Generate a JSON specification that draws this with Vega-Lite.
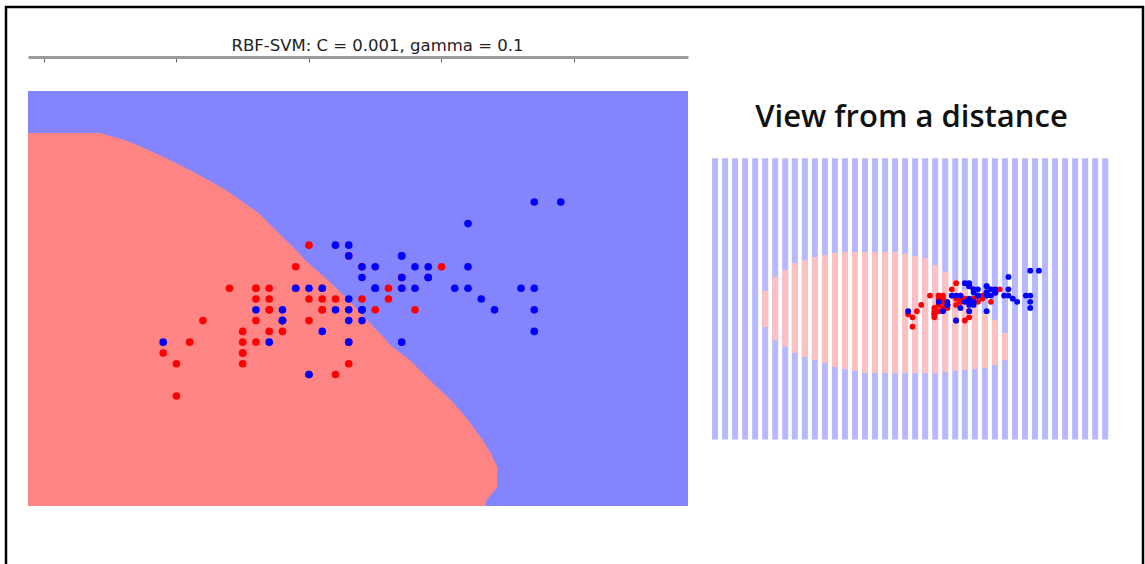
{
  "$schema": "https://vega.github.io/schema/vega-lite/v6.json",
  "usermeta": {"embedOptions": {"actions": false}},
  "width": 1137,
  "height": 557,
  "autosize": {"type": "none"},
  "padding": {"left": 6, "top": 7, "right": 2, "bottom": 0},
  "background": "white",
  "config": {"view": {"stroke": "black", "strokeWidth": 2.5, "strokeDash": [1694, 1137, 600]}},
  "datasets": {
    "region": [{"x1": 3.88, "x2": 8.86, "y1": 0.98, "y2": 4.83}],
    "boundary": [
      {"bx": 4.42, "by": 4.44}, {"bx": 4.61, "by": 4.375}, {"bx": 4.79, "by": 4.283}, {"bx": 4.95, "by": 4.19},
      {"bx": 5.10, "by": 4.097}, {"bx": 5.24, "by": 4.004}, {"bx": 5.37, "by": 3.912}, {"bx": 5.48, "by": 3.819},
      {"bx": 5.62, "by": 3.698}, {"bx": 5.71, "by": 3.587}, {"bx": 5.80, "by": 3.476}, {"bx": 5.88, "by": 3.383},
      {"bx": 5.97, "by": 3.262}, {"bx": 6.14, "by": 3.077}, {"bx": 6.30, "by": 2.891}, {"bx": 6.39, "by": 2.771},
      {"bx": 6.51, "by": 2.613}, {"bx": 6.63, "by": 2.455}, {"bx": 6.76, "by": 2.335}, {"bx": 6.91, "by": 2.149},
      {"bx": 7.07, "by": 1.964}, {"bx": 7.20, "by": 1.778}, {"bx": 7.31, "by": 1.593}, {"bx": 7.37, "by": 1.472},
      {"bx": 7.42, "by": 1.342}, {"bx": 7.42, "by": 1.157}, {"bx": 7.34, "by": 1.036}, {"bx": 7.33, "by": 0.98}
    ],
    "cols": [
      {"cx": 0.47}, {"cx": 0.70}, {"cx": 0.93}, {"cx": 1.16}, {"cx": 1.39}, {"cx": 1.62}, {"cx": 1.85}, {"cx": 2.08},
      {"cx": 2.30}, {"cx": 2.53}, {"cx": 2.76}, {"cx": 2.99}, {"cx": 3.22}, {"cx": 3.45}, {"cx": 3.68}, {"cx": 3.91},
      {"cx": 4.14}, {"cx": 4.37}, {"cx": 4.60}, {"cx": 4.83}, {"cx": 5.06}, {"cx": 5.29}, {"cx": 5.52}, {"cx": 5.75},
      {"cx": 5.98}, {"cx": 6.20}, {"cx": 6.43}, {"cx": 6.66}, {"cx": 6.89}, {"cx": 7.12}, {"cx": 7.35}, {"cx": 7.58},
      {"cx": 7.81}, {"cx": 8.04}, {"cx": 8.27}, {"cx": 8.50}, {"cx": 8.73}, {"cx": 8.96}, {"cx": 9.19}, {"cx": 9.42}
    ],
    "pink": [
      {"cx": 1.62, "lo": 1.99, "hi": 3.15}, {"cx": 1.85, "lo": 1.57, "hi": 3.60}, {"cx": 2.08, "lo": 1.35, "hi": 3.82},
      {"cx": 2.30, "lo": 1.16, "hi": 4.05}, {"cx": 2.53, "lo": 1.03, "hi": 4.14}, {"cx": 2.76, "lo": 0.93, "hi": 4.24},
      {"cx": 2.99, "lo": 0.83, "hi": 4.30}, {"cx": 3.22, "lo": 0.71, "hi": 4.37}, {"cx": 3.45, "lo": 0.64, "hi": 4.40},
      {"cx": 3.68, "lo": 0.58, "hi": 4.40}, {"cx": 3.91, "lo": 0.51, "hi": 4.40}, {"cx": 4.14, "lo": 0.51, "hi": 4.40},
      {"cx": 4.37, "lo": 0.51, "hi": 4.40}, {"cx": 4.60, "lo": 0.51, "hi": 4.40}, {"cx": 4.83, "lo": 0.51, "hi": 4.34},
      {"cx": 5.06, "lo": 0.51, "hi": 4.27}, {"cx": 5.29, "lo": 0.51, "hi": 4.21}, {"cx": 5.52, "lo": 0.51, "hi": 3.98},
      {"cx": 5.75, "lo": 0.55, "hi": 3.76}, {"cx": 5.98, "lo": 0.58, "hi": 3.50}, {"cx": 6.20, "lo": 0.61, "hi": 3.18},
      {"cx": 6.43, "lo": 0.64, "hi": 2.86}, {"cx": 6.66, "lo": 0.67, "hi": 2.44}, {"cx": 6.89, "lo": 0.77, "hi": 2.22},
      {"cx": 7.12, "lo": 0.93, "hi": 1.80}
    ],
    "iris": [
      {"sl": 7.0, "sw": 3.2, "sp": "versicolor"}, {"sl": 6.4, "sw": 3.2, "sp": "versicolor"}, {"sl": 6.9, "sw": 3.1, "sp": "versicolor"},
      {"sl": 5.5, "sw": 2.3, "sp": "versicolor"}, {"sl": 6.5, "sw": 2.8, "sp": "versicolor"}, {"sl": 5.7, "sw": 2.8, "sp": "versicolor"},
      {"sl": 6.3, "sw": 3.3, "sp": "versicolor"}, {"sl": 4.9, "sw": 2.4, "sp": "versicolor"}, {"sl": 6.6, "sw": 2.9, "sp": "versicolor"},
      {"sl": 5.2, "sw": 2.7, "sp": "versicolor"}, {"sl": 5.0, "sw": 2.0, "sp": "versicolor"}, {"sl": 5.9, "sw": 3.0, "sp": "versicolor"},
      {"sl": 6.0, "sw": 2.2, "sp": "versicolor"}, {"sl": 6.1, "sw": 2.9, "sp": "versicolor"}, {"sl": 5.6, "sw": 2.9, "sp": "versicolor"},
      {"sl": 6.7, "sw": 3.1, "sp": "versicolor"}, {"sl": 5.6, "sw": 3.0, "sp": "versicolor"}, {"sl": 5.8, "sw": 2.7, "sp": "versicolor"},
      {"sl": 6.2, "sw": 2.2, "sp": "versicolor"}, {"sl": 5.6, "sw": 2.5, "sp": "versicolor"}, {"sl": 5.9, "sw": 3.2, "sp": "versicolor"},
      {"sl": 6.1, "sw": 2.8, "sp": "versicolor"}, {"sl": 6.3, "sw": 2.5, "sp": "versicolor"}, {"sl": 6.1, "sw": 2.8, "sp": "versicolor"},
      {"sl": 6.4, "sw": 2.9, "sp": "versicolor"}, {"sl": 6.6, "sw": 3.0, "sp": "versicolor"}, {"sl": 6.8, "sw": 2.8, "sp": "versicolor"},
      {"sl": 6.7, "sw": 3.0, "sp": "versicolor"}, {"sl": 6.0, "sw": 2.9, "sp": "versicolor"}, {"sl": 5.7, "sw": 2.6, "sp": "versicolor"},
      {"sl": 5.5, "sw": 2.4, "sp": "versicolor"}, {"sl": 5.5, "sw": 2.4, "sp": "versicolor"}, {"sl": 5.8, "sw": 2.7, "sp": "versicolor"},
      {"sl": 6.0, "sw": 2.7, "sp": "versicolor"}, {"sl": 5.4, "sw": 3.0, "sp": "versicolor"}, {"sl": 6.0, "sw": 3.4, "sp": "versicolor"},
      {"sl": 6.7, "sw": 3.1, "sp": "versicolor"}, {"sl": 6.3, "sw": 2.3, "sp": "versicolor"}, {"sl": 5.6, "sw": 3.0, "sp": "versicolor"},
      {"sl": 5.5, "sw": 2.5, "sp": "versicolor"}, {"sl": 5.5, "sw": 2.6, "sp": "versicolor"}, {"sl": 6.1, "sw": 3.0, "sp": "versicolor"},
      {"sl": 5.8, "sw": 2.6, "sp": "versicolor"}, {"sl": 5.0, "sw": 2.3, "sp": "versicolor"}, {"sl": 5.6, "sw": 2.7, "sp": "versicolor"},
      {"sl": 5.7, "sw": 3.0, "sp": "versicolor"}, {"sl": 5.7, "sw": 2.9, "sp": "versicolor"}, {"sl": 6.2, "sw": 2.9, "sp": "versicolor"},
      {"sl": 5.1, "sw": 2.5, "sp": "versicolor"}, {"sl": 5.7, "sw": 2.8, "sp": "versicolor"},
      {"sl": 6.3, "sw": 3.3, "sp": "virginica"}, {"sl": 5.8, "sw": 2.7, "sp": "virginica"}, {"sl": 7.1, "sw": 3.0, "sp": "virginica"},
      {"sl": 6.3, "sw": 2.9, "sp": "virginica"}, {"sl": 6.5, "sw": 3.0, "sp": "virginica"}, {"sl": 7.6, "sw": 3.0, "sp": "virginica"},
      {"sl": 4.9, "sw": 2.5, "sp": "virginica"}, {"sl": 7.3, "sw": 2.9, "sp": "virginica"}, {"sl": 6.7, "sw": 2.5, "sp": "virginica"},
      {"sl": 7.2, "sw": 3.6, "sp": "virginica"}, {"sl": 6.5, "sw": 3.2, "sp": "virginica"}, {"sl": 6.4, "sw": 2.7, "sp": "virginica"},
      {"sl": 6.8, "sw": 3.0, "sp": "virginica"}, {"sl": 5.7, "sw": 2.5, "sp": "virginica"}, {"sl": 5.8, "sw": 2.8, "sp": "virginica"},
      {"sl": 6.4, "sw": 3.2, "sp": "virginica"}, {"sl": 6.5, "sw": 3.0, "sp": "virginica"}, {"sl": 7.7, "sw": 3.8, "sp": "virginica"},
      {"sl": 7.7, "sw": 2.6, "sp": "virginica"}, {"sl": 6.0, "sw": 2.2, "sp": "virginica"}, {"sl": 6.9, "sw": 3.2, "sp": "virginica"},
      {"sl": 5.6, "sw": 2.8, "sp": "virginica"}, {"sl": 7.7, "sw": 2.8, "sp": "virginica"}, {"sl": 6.3, "sw": 2.7, "sp": "virginica"},
      {"sl": 6.7, "sw": 3.3, "sp": "virginica"}, {"sl": 7.2, "sw": 3.2, "sp": "virginica"}, {"sl": 6.2, "sw": 2.8, "sp": "virginica"},
      {"sl": 6.1, "sw": 3.0, "sp": "virginica"}, {"sl": 6.4, "sw": 2.8, "sp": "virginica"}, {"sl": 7.2, "sw": 3.0, "sp": "virginica"},
      {"sl": 7.4, "sw": 2.8, "sp": "virginica"}, {"sl": 7.9, "sw": 3.8, "sp": "virginica"}, {"sl": 6.4, "sw": 2.8, "sp": "virginica"},
      {"sl": 6.3, "sw": 2.8, "sp": "virginica"}, {"sl": 6.1, "sw": 2.6, "sp": "virginica"}, {"sl": 7.7, "sw": 3.0, "sp": "virginica"},
      {"sl": 6.3, "sw": 3.4, "sp": "virginica"}, {"sl": 6.4, "sw": 3.1, "sp": "virginica"}, {"sl": 6.0, "sw": 3.0, "sp": "virginica"},
      {"sl": 6.9, "sw": 3.1, "sp": "virginica"}, {"sl": 6.7, "sw": 3.1, "sp": "virginica"}, {"sl": 6.9, "sw": 3.1, "sp": "virginica"},
      {"sl": 5.8, "sw": 2.7, "sp": "virginica"}, {"sl": 6.8, "sw": 3.2, "sp": "virginica"}, {"sl": 6.7, "sw": 3.3, "sp": "virginica"},
      {"sl": 6.7, "sw": 3.0, "sp": "virginica"}, {"sl": 6.3, "sw": 2.5, "sp": "virginica"}, {"sl": 6.5, "sw": 3.0, "sp": "virginica"},
      {"sl": 6.2, "sw": 3.4, "sp": "virginica"}, {"sl": 5.9, "sw": 3.0, "sp": "virginica"}
    ]
  },
  "layer": [
    {
      "layer": [
        {
          "data": {"name": "region"},
          "mark": {"type": "rect", "fill": "#8484ff"},
          "encoding": {
            "x": {"field": "x1", "type": "quantitative",
              "scale": {"domain": [3.88, 8.86], "range": [22, 682], "nice": false, "zero": false},
              "axis": {"orient": "top", "offset": -50, "values": [4, 5, 6, 7, 8], "labels": false, "grid": false,
                "domainColor": "#9a9a9a", "domainWidth": 3, "tickColor": "#666666", "tickWidth": 1, "tickSize": -5,
                "title": "RBF-SVM: C = 0.001, gamma = 0.1", "titleFont": "DejaVu Sans", "titleFontSize": 16.5,
                "titleFontWeight": "normal", "titleColor": "#222222", "titlePadding": 6, "titleX": 371, "titleBaseline": "alphabetic"}},
            "x2": {"field": "x2"},
            "y": {"field": "y1", "type": "quantitative",
              "scale": {"domain": [0.98, 4.83], "range": [499, 84], "nice": false, "zero": false}, "axis": null},
            "y2": {"field": "y2"}
          }
        },
        {
          "data": {"name": "boundary"},
          "mark": {"type": "area", "orient": "horizontal", "color": "#ff8484"},
          "encoding": {
            "x": {"field": "bx", "type": "quantitative",
              "scale": {"domain": [3.88, 8.86], "range": [22, 682], "nice": false, "zero": false},
              "axis": {"orient": "top", "offset": -50, "values": [4, 5, 6, 7, 8], "labels": false, "grid": false,
                "domainColor": "#9a9a9a", "domainWidth": 3, "tickColor": "#666666", "tickWidth": 1, "tickSize": -5,
                "title": "RBF-SVM: C = 0.001, gamma = 0.1", "titleFont": "DejaVu Sans", "titleFontSize": 16.5,
                "titleFontWeight": "normal", "titleColor": "#222222", "titlePadding": 6, "titleX": 371, "titleBaseline": "alphabetic"}},
            "x2": {"datum": 3.88},
            "y": {"field": "by", "type": "quantitative",
              "scale": {"domain": [0.98, 4.83], "range": [499, 84], "nice": false, "zero": false}, "axis": null}
          }
        },
        {
          "data": {"name": "iris"},
          "mark": {"type": "circle", "size": 58, "opacity": 1},
          "encoding": {
            "x": {"field": "sl", "type": "quantitative",
              "scale": {"domain": [3.88, 8.86], "range": [22, 682], "nice": false, "zero": false},
              "axis": {"orient": "top", "offset": -50, "values": [4, 5, 6, 7, 8], "labels": false, "grid": false,
                "domainColor": "#9a9a9a", "domainWidth": 3, "tickColor": "#666666", "tickWidth": 1, "tickSize": -5,
                "title": "RBF-SVM: C = 0.001, gamma = 0.1", "titleFont": "DejaVu Sans", "titleFontSize": 16.5,
                "titleFontWeight": "normal", "titleColor": "#222222", "titlePadding": 6, "titleX": 371, "titleBaseline": "alphabetic"}},
            "y": {"field": "sw", "type": "quantitative",
              "scale": {"domain": [0.98, 4.83], "range": [499, 84], "nice": false, "zero": false}, "axis": null},
            "color": {"field": "sp", "type": "nominal",
              "scale": {"domain": ["versicolor", "virginica"], "range": ["#ff0000", "#0000ff"]}, "legend": null}
          }
        }
      ]
    },
    {
      "layer": [
        {
          "data": {"name": "cols"},
          "mark": {"type": "rule", "strokeWidth": 6, "color": "#b8b8ff"},
          "encoding": {
            "x": {"field": "cx", "type": "quantitative",
              "scale": {"domain": [0.4, 9.53], "range": [706, 1104], "nice": false, "zero": false},
              "axis": {"orient": "top", "offset": -151, "domain": false, "ticks": false, "labels": false, "grid": false,
                "title": "View from a distance", "titleFont": "Open Sans", "titleFontSize": 31, "titleFontWeight": 600,
                "titleColor": "#111111", "titlePadding": 32, "titleBaseline": "alphabetic"}},
            "y": {"datum": -1.62, "type": "quantitative",
              "scale": {"domain": [-1.64, 7.42], "range": [433, 151], "nice": false, "zero": false}, "axis": null},
            "y2": {"datum": 7.41}
          }
        },
        {
          "data": {"name": "pink"},
          "mark": {"type": "rule", "strokeWidth": 6, "color": "#ffc0c0"},
          "encoding": {
            "x": {"field": "cx", "type": "quantitative",
              "scale": {"domain": [0.4, 9.53], "range": [706, 1104], "nice": false, "zero": false},
              "axis": {"orient": "top", "offset": -151, "domain": false, "ticks": false, "labels": false, "grid": false,
                "title": "View from a distance", "titleFont": "Open Sans", "titleFontSize": 31, "titleFontWeight": 600,
                "titleColor": "#111111", "titlePadding": 32, "titleBaseline": "alphabetic"}},
            "y": {"field": "lo", "type": "quantitative",
              "scale": {"domain": [-1.64, 7.42], "range": [433, 151], "nice": false, "zero": false}, "axis": null},
            "y2": {"field": "hi"}
          }
        },
        {
          "data": {"name": "iris"},
          "mark": {"type": "circle", "size": 34, "opacity": 1},
          "encoding": {
            "x": {"field": "sl", "type": "quantitative",
              "scale": {"domain": [0.4, 9.53], "range": [706, 1104], "nice": false, "zero": false},
              "axis": {"orient": "top", "offset": -151, "domain": false, "ticks": false, "labels": false, "grid": false,
                "title": "View from a distance", "titleFont": "Open Sans", "titleFontSize": 31, "titleFontWeight": 600,
                "titleColor": "#111111", "titlePadding": 32, "titleBaseline": "alphabetic"}},
            "y": {"field": "sw", "type": "quantitative",
              "scale": {"domain": [-1.64, 7.42], "range": [433, 151], "nice": false, "zero": false}, "axis": null},
            "color": {"field": "sp", "type": "nominal",
              "scale": {"domain": ["versicolor", "virginica"], "range": ["#ff0000", "#0000ff"]}, "legend": null}
          }
        }
      ]
    }
  ],
  "resolve": {"scale": {"x": "independent", "y": "independent"}, "axis": {"x": "independent", "y": "independent"}}
}
